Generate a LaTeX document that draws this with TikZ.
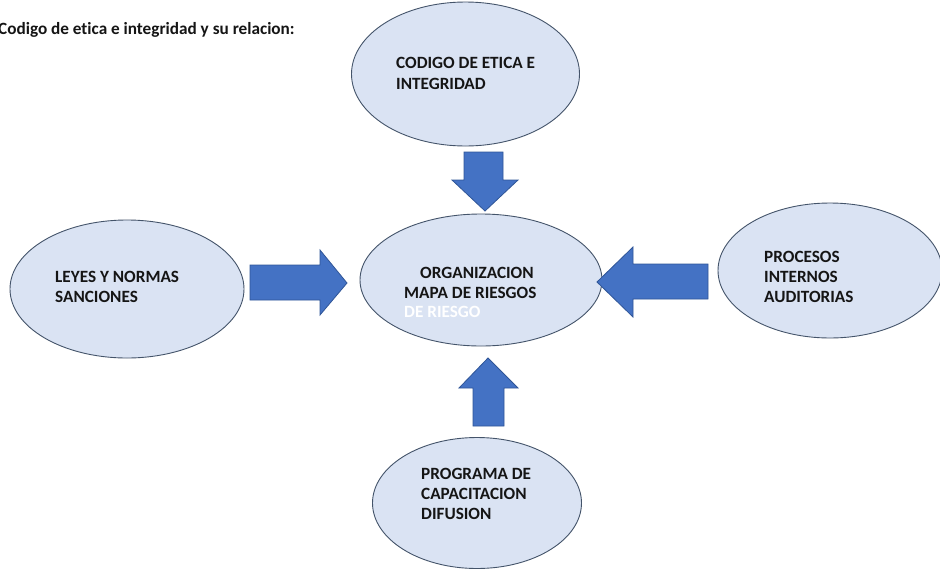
\documentclass[tikz,border=0pt]{standalone}
\usepackage{fontspec}
\setmainfont{Carlito}[Ligatures={NoCommon}]
\usetikzlibrary{shapes.geometric}
\definecolor{ellfill}{HTML}{DAE3F3}
\definecolor{elldraw}{HTML}{44546A}
\definecolor{arrfill}{HTML}{4472C4}
\definecolor{arrdraw}{HTML}{2F5597}
\definecolor{txt}{HTML}{151515}
\tikzset{
  bubble/.style={ellipse, draw=elldraw, fill=ellfill, line width=0.9pt, inner sep=0pt},
  blockarrow/.style={fill=arrfill, draw=arrdraw, line width=0.8pt, line join=miter},
  lbl/.style={anchor=base west, inner sep=0pt, text=txt, font=\bfseries\fontsize{17.2}{20}\selectfont},
}
\begin{document}
\begin{tikzpicture}[x=1pt, y=-1pt]
\useasboundingbox[fill=white] (0,0) rectangle (940,571);

% title
\node[lbl] (title) at (-2,34) {Codigo de etica e integridad y su relacion:};

% ellipses
\node[bubble, minimum width=228pt, minimum height=144pt] (top) at (465.5,74) {};
\node[bubble, minimum width=242pt, minimum height=132pt] (mid) at (481,280) {};
\node[bubble, minimum width=234pt, minimum height=138pt] (left) at (127,289) {};
\node[bubble, minimum width=224pt, minimum height=135pt] (right) at (830,270.5) {};
\node[bubble, minimum width=209pt, minimum height=131pt] (bot) at (477,503) {};

% texts
\node[lbl] (t1) at (396,68) {CODIGO DE ETICA E};
\node[lbl] (t2) at (396,89) {INTEGRIDAD};

\node[lbl] (m1) at (420,278) {ORGANIZACION};
\node[lbl] (m2) at (404,298) {MAPA DE RIESGOS};
\node[lbl, text=white] (m3) at (404,317) {DE RIESGO};

\node[lbl] (l1) at (55,282) {LEYES Y NORMAS};
\node[lbl] (l2) at (55,302) {SANCIONES};

\node[lbl] (r1) at (764,262) {PROCESOS};
\node[lbl] (r2) at (764,282) {INTERNOS};
\node[lbl] (r3) at (764,302) {AUDITORIAS};

\node[lbl] (b1) at (421,479) {PROGRAMA DE};
\node[lbl] (b2) at (421,499) {CAPACITACION};
\node[lbl] (b3) at (421,519) {DIFUSION};

% block arrows
% down (from top)
\draw[blockarrow] (464,152) -- (503,152) -- (503,180) -- (518,180) -- (485,211)
  -- (452,180) -- (464,180) -- cycle;
% right-pointing (from left)
\draw[blockarrow] (250,265) -- (320,265) -- (320,250) -- (347,283) -- (320,315)
  -- (320,300) -- (250,300) -- cycle;
% left-pointing (from right)
\draw[blockarrow] (708,264) -- (633,264) -- (633,247) -- (597,282) -- (633,317)
  -- (633,299) -- (708,299) -- cycle;
% up (from bottom)
\draw[blockarrow] (473,426) -- (473,388) -- (459,388) -- (488,358) -- (518,388)
  -- (504,388) -- (504,426) -- cycle;
\end{tikzpicture}
\end{document}
